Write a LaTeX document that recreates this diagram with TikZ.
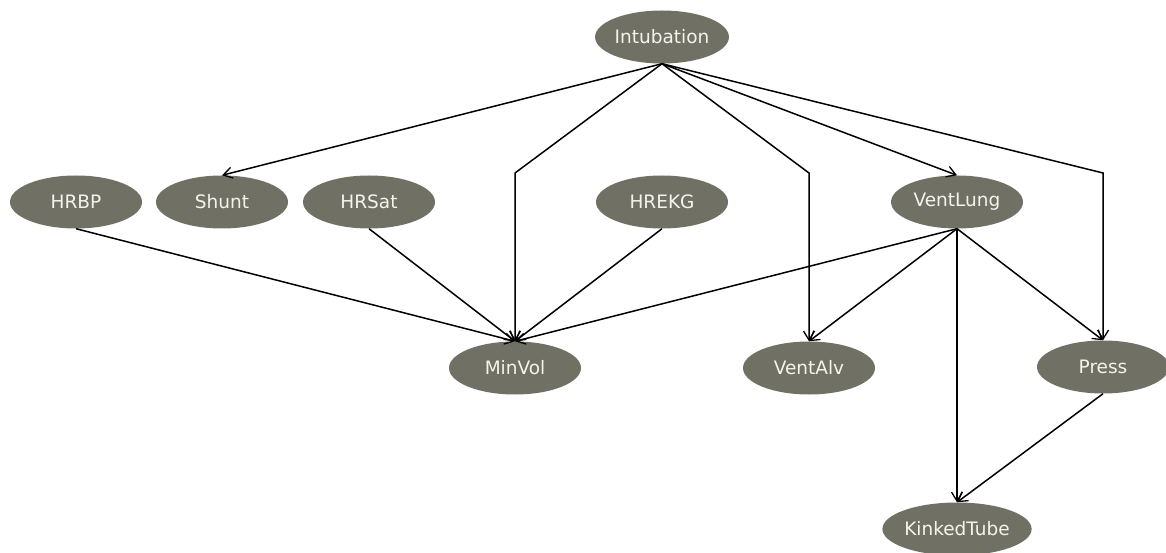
\documentclass[tikz,border=0pt]{standalone}
\usepackage{fontspec}
\setmainfont{DejaVu Sans}
\usetikzlibrary{shapes.geometric,arrows.meta}
\definecolor{nodegray}{RGB}{112,112,101}
\definecolor{nodetext}{RGB}{244,244,236}
\begin{document}
\begin{tikzpicture}[x=1pt,y=-1pt,
  bnnode/.style={ellipse, fill=nodegray, text=nodetext, minimum width=132pt, minimum height=53pt, inner sep=0pt, font=\fontsize{18.5}{21}\selectfont},
  link/.style={draw=black, line width=1.5pt, -{Straight Barb[length=9pt,width=11pt,line width=1.3pt]}}]
\useasboundingbox[fill=white] (0,0) rectangle (1166,553);
\node[bnnode] (Intubation) at (662,37) {Intubation};
\node[bnnode] (HRBP) at (76,202) {HRBP};
\node[bnnode] (Shunt) at (222,202) {Shunt};
\node[bnnode] (HRSat) at (369,202) {HRSat};
\node[bnnode] (HREKG) at (662,202) {HREKG};
\node[bnnode] (VentLung) at (957,202) {VentLung};
\node[bnnode] (MinVol) at (515,368) {MinVol};
\node[bnnode] (VentAlv) at (809,368) {VentAlv};
\node[bnnode] (Press) at (1103,367) {Press};
\node[bnnode] (KinkedTube) at (957,529) {KinkedTube};
\coordinate (bMin) at (515,173);
\coordinate (bAlv) at (809,173);
\coordinate (bPress) at (1103,173);
\draw[link] (Intubation.south) -- (Shunt.north);
\draw[link] (Intubation.south) -- (bMin) -- (MinVol.north);
\draw[link] (Intubation.south) -- (bAlv) -- (VentAlv.north);
\draw[link] (Intubation.south) -- (VentLung.north);
\draw[link] (Intubation.south) -- (bPress) -- (Press.north);
\draw[link] (HRBP.south) -- (MinVol.north);
\draw[link] (HRSat.south) -- (MinVol.north);
\draw[link] (HREKG.south) -- (MinVol.north);
\draw[link] (VentLung.south) -- (MinVol.north);
\draw[link] (VentLung.south) -- (VentAlv.north);
\draw[link] (VentLung.south) -- (Press.north);
\draw[link] (VentLung.south) -- (KinkedTube.north);
\draw[link] (Press.south) -- (KinkedTube.north);
\end{tikzpicture}
\end{document}
